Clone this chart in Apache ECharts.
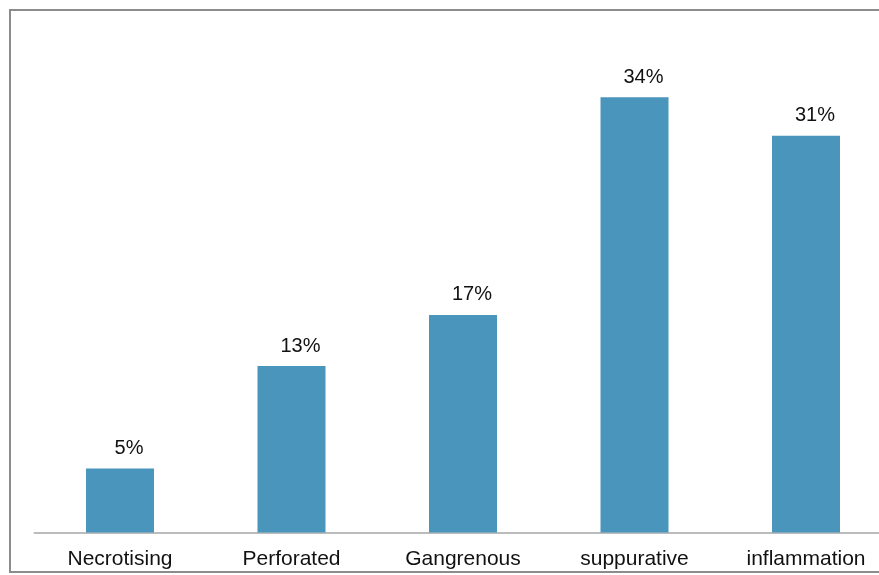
<!DOCTYPE html>
<html>
<head>
<meta charset="utf-8">
<script src="https://cdn.jsdelivr.net/npm/echarts@6/dist/echarts.min.js"></script>
<style>
html,body{margin:0;padding:0;background:#fff;overflow:hidden;width:879px;height:575px;}
#chart{width:910px;height:575px;}
</style>
</head>
<body>
<div id="chart"></div>
<script>
const categories = ['Necrotising', 'Perforated', 'Gangrenous', 'suppurative', 'inflammation'];
const values = [5, 13, 17, 34, 31];

const chart = echarts.init(document.getElementById('chart'), null, {renderer: 'canvas'});
chart.setOption({
  animation: false,
  backgroundColor: '#ffffff',
  graphic: [{
    type: 'rect',
    shape: {x: 10, y: 10, width: 920, height: 562},
    style: {fill: 'none', stroke: '#8c8c8c', lineWidth: 2},
    z: 100
  }],
  grid: {left: 34.25, top: 20.5, width: 857.5, height: 512, containLabel: false},
  xAxis: {
    type: 'category',
    data: categories,
    axisLine: {lineStyle: {color: '#a6a6a6', width: 1.5}},
    axisTick: {show: false},
    axisLabel: {
      color: '#111',
      fontFamily: 'Liberation Sans, Arial, sans-serif',
      fontSize: 21,
      margin: 16,
      interval: 0
    }
  },
  yAxis: {
    type: 'value',
    min: 0,
    max: 40,
    show: false,
    splitLine: {show: false}
  },
  series: [{
    type: 'bar',
    data: values,
    barWidth: 68,
    itemStyle: {color: '#4a95bc'},
    label: {
      show: true,
      position: 'top',
      distance: 10,
      offset: [9, 0],
      formatter: '{c}%',
      color: '#111',
      fontFamily: 'Liberation Sans, Arial, sans-serif',
      fontSize: 20
    }
  }]
});
</script>
</body>
</html>
